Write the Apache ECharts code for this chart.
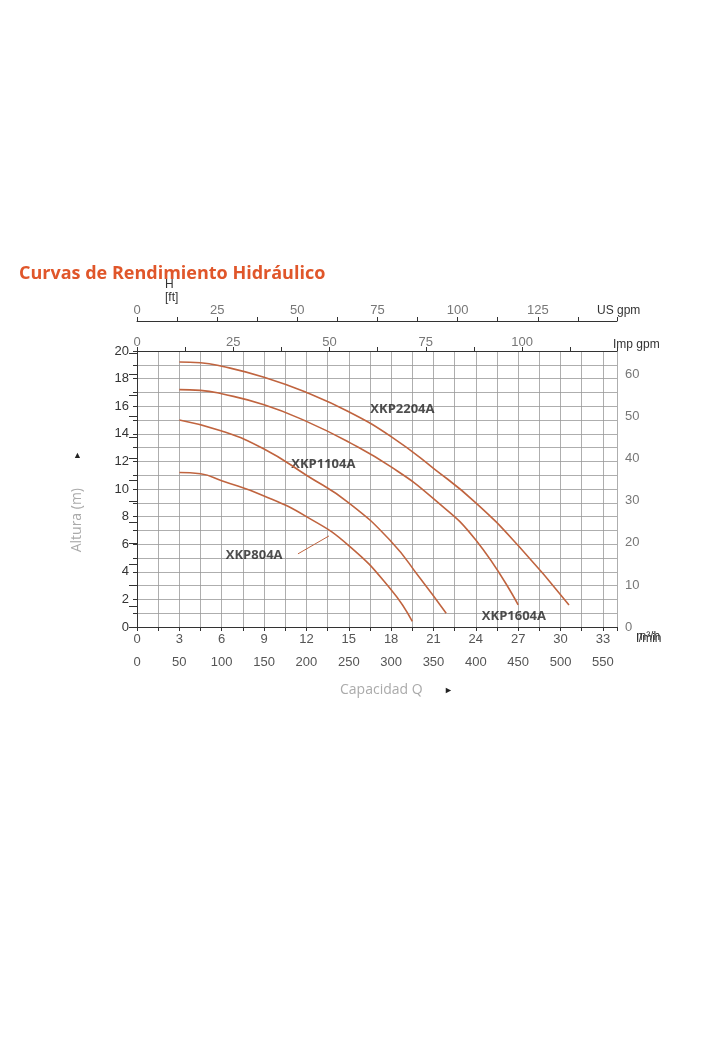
<!DOCTYPE html>
<html><head><meta charset="utf-8">
<script src="https://cdn.jsdelivr.net/npm/echarts@6/dist/echarts.min.js"></script>
<style>html,body{margin:0;background:#fff}#c{width:720px;height:1055px}</style>
</head><body><div id="c"></div>
<script>
// m3/h vs head (m)
var xkp2204 = [[3,19.2],[4.5,19.15],[6,18.9],[9,18.1],[12,17.0],[15,15.6],[18,13.8],[21,11.5],[24,9.0],[27,5.9],[30.6,1.6]];
var xkp1604 = [[3,17.2],[4.5,17.15],[6,16.9],[9,16.1],[12,14.9],[15,13.4],[18,11.6],[21,9.3],[24,6.3],[27,1.6]];
var xkp1104 = [[3,15.0],[6,14.2],[9,12.9],[12,11.0],[15,9.0],[18,6.2],[20,3.6],[21.9,1.0]];
var xkp804 = [[3,11.2],[4.5,11.1],[6,10.6],[9,9.5],[12,8.0],[15,5.9],[18,2.7],[19.5,0.4]];
var modelLabels = [['XKP2204A',18.8,15.8],['XKP1104A',13.2,11.8],['XKP804A',8.3,5.2],['XKP1604A',26.7,0.8]];
var leader804 = [[11.4,5.3],[13.6,6.6]];

var QMAX = 34, HMAX = 20;
var lineColor = '#c0643f', gridColor = '#999', txt = '#333';
var base = {axisLine:{lineStyle:{color:'#333'}}, axisTick:{lineStyle:{color:'#333'},length:4},
  axisLabel:{color:'#555',fontSize:13,fontFamily:'Open Sans'}, splitLine:{show:false}};
function ax(o){return Object.assign({}, JSON.parse(JSON.stringify(base)), o);}

var chart = echarts.init(document.getElementById('c'));
function curve(d){return {type:'line',data:d,smooth:true,showSymbol:false,xAxisIndex:0,yAxisIndex:0,
  lineStyle:{color:lineColor,width:1.6}};}
chart.setOption({
  animation:false,
  title:{text:'Curvas de Rendimiento Hidráulico',left:14,top:260,
    textStyle:{color:'#e0562a',fontSize:18,fontWeight:'bold',fontFamily:'Open Sans'}},
  grid:{left:137,right:103,top:351,bottom:428},
  xAxis:[
    ax({type:'value',min:0,max:QMAX,interval:3,position:'bottom',
      minorTick:{show:true,splitNumber:2,length:4,lineStyle:{color:'#333'}},
      minorSplitLine:{show:true,lineStyle:{color:gridColor,width:0.8}},
      splitLine:{show:true,lineStyle:{color:gridColor,width:0.8}},
      axisLabel:{color:'#555',fontSize:13,showMaxLabel:false,margin:6},
      name:'m³/h',nameGap:8,nameTextStyle:{color:txt,fontSize:12,verticalAlign:'top',padding:[4,0,0,0]}}),
    ax({type:'value',min:0,max:QMAX*1000/60,interval:50,position:'bottom',offset:23,
      minorTick:{show:true,splitNumber:2,length:4,lineStyle:{color:'#333'}},
      axisLabel:{color:'#555',fontSize:13,showMaxLabel:false,margin:6},
      name:'l/min',nameGap:12,nameTextStyle:{color:txt,fontSize:12,verticalAlign:'top',padding:[6,0,0,0]}}),
    ax({type:'value',min:0,max:QMAX*3.666,interval:25,position:'top',
      minorTick:{show:true,splitNumber:2,length:4,lineStyle:{color:'#333'}},
      axisLabel:{color:'#777',fontSize:13,showMaxLabel:false,margin:2},
      name:'Imp gpm',nameGap:-4,nameTextStyle:{color:txt,fontSize:12,align:'left',verticalAlign:'bottom',padding:[0,0,0,0]}}),
    ax({type:'value',min:0,max:QMAX*4.403,interval:25,position:'top',offset:30,
      minorTick:{show:true,splitNumber:2,length:4,lineStyle:{color:'#333'}},
      axisLabel:{color:'#777',fontSize:13,showMaxLabel:false,margin:4},
      name:'US gpm',nameGap:-20,nameTextStyle:{color:txt,fontSize:12,align:'left',verticalAlign:'bottom',padding:[0,0,4,0]}})
  ],
  yAxis:[
    ax({type:'value',min:0,max:HMAX,interval:2,position:'left',
      minorTick:{show:true,splitNumber:2,length:4,lineStyle:{color:'#333'}},
      splitLine:{show:true,lineStyle:{color:gridColor,width:0.8}},
      minorSplitLine:{show:true,lineStyle:{color:gridColor,width:0.8}},
      axisLabel:{color:'#333',fontSize:13,margin:8}}),
    ax({type:'value',min:0,max:HMAX*3.2808,interval:5,position:'right',
      axisTick:{inside:true,length:8,lineStyle:{color:'#333'}},
      axisLabel:{color:'#777',fontSize:13,showMaxLabel:false,formatter:function(v){return v%10===0?v:'';}},
      name:'H\n[ft]',nameGap:-2,nameTextStyle:{color:txt,fontSize:12,align:'left',padding:[0,0,-14,28],lineHeight:13}})
  ],
  graphic:[
    {type:'text',left:70,top:488,rotation:Math.PI/2,style:{text:'Altura (m)',fill:'#aaa',fontSize:14,fontFamily:'Open Sans'}},
    {type:'text',left:73,top:451,style:{text:'▲',fill:'#222',fontSize:9}},
    {type:'text',left:340,top:683,style:{text:'Capacidad Q',fill:'#aaa',fontSize:14,fontFamily:'Open Sans'}},
    {type:'text',left:444,top:686,style:{text:'►',fill:'#222',fontSize:9}}
  ],
  series:[
    curve(xkp2204),curve(xkp1604),curve(xkp1104),curve(xkp804),
    {type:'line',data:leader804,showSymbol:false,lineStyle:{color:lineColor,width:1}},
    {type:'scatter',symbolSize:0,data:modelLabels.map(function(m){return {value:[m[1],m[2]],name:m[0]};}),
      label:{show:true,position:'inside',formatter:'{b}',color:'#222',fontSize:13,fontWeight:'bold',fontFamily:'Open Sans'}}
  ]
});
</script></body></html>
